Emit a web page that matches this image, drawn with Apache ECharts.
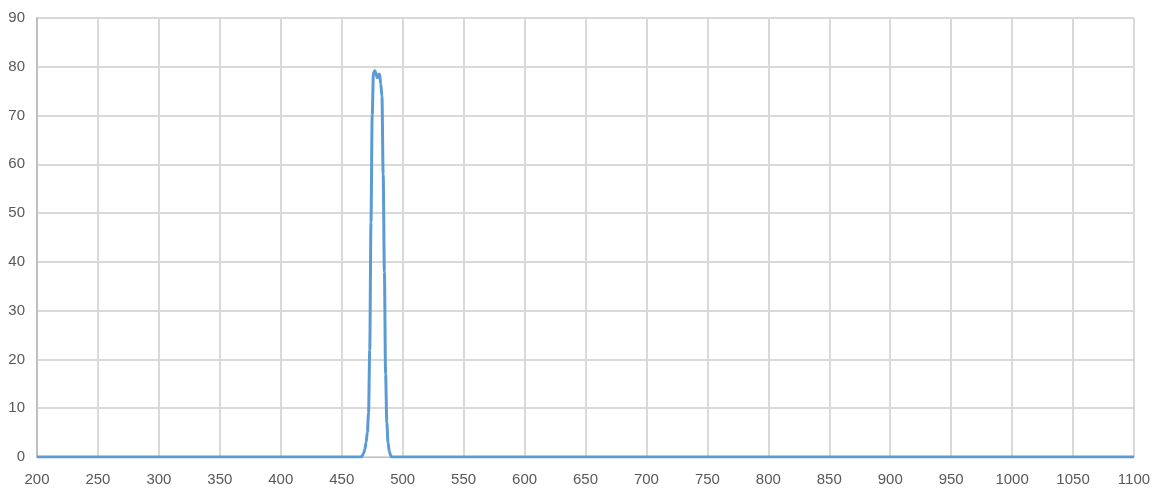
<!DOCTYPE html>
<html>
<head>
<meta charset="utf-8">
<script src="https://cdn.jsdelivr.net/npm/echarts@6/dist/echarts.min.js"></script>
<style>
  html, body { margin: 0; padding: 0; background: #fff; }
  #chart { width: 1158px; height: 493px; }
</style>
</head>
<body>
<div id="chart"></div>
<script>
// wavelength (nm) and transmission (%)
const wavelengths = [200, 460, 466, 467, 468, 469, 470, 471, 472, 473, 474, 475, 476, 477, 478, 479, 480, 481, 482, 483, 484, 485, 486, 487, 488, 489, 490, 491, 500, 1100]
const transmission = [0, 0, 0, 0.3, 0.8, 1.6, 3, 5, 9, 22, 48, 70, 78.6, 79.2, 78.8, 77.8, 78.2, 78.5, 76.5, 74, 58, 38, 17, 7, 3, 1.2, 0.4, 0, 0, 0]

const xTicks = { min: 200, max: 1100, interval: 50 }
const yTicks = { min: 0, max: 90, interval: 10 }

const points = wavelengths.map((w, i) => [w, transmission[i]])

const myChart = echarts.init(document.getElementById('chart'))

const option = {
    animation: false,
    grid: {
        left: 37,
        right: 24,
        top: 18,
        bottom: 36
    },
    xAxis: {
        type: 'value',
        min: xTicks.min,
        max: xTicks.max,
        interval: xTicks.interval,
        axisLine: { show: true, lineStyle: { color: '#BFBFBF', width: 1 } },
        axisTick: { show: false },
        splitLine: { show: true, lineStyle: { color: '#D9D9D9', width: 2 } },
        axisLabel: {
            color: '#595959',
            fontSize: 15,
            fontFamily: 'Liberation Sans',
            margin: 15,
            formatter: v => String(v)
        }
    },
    yAxis: {
        type: 'value',
        min: yTicks.min,
        max: yTicks.max,
        interval: yTicks.interval,
        axisLine: { show: true, lineStyle: { color: '#BFBFBF', width: 2 } },
        axisTick: { show: false },
        splitLine: { show: true, lineStyle: { color: '#D9D9D9', width: 2 } },
        axisLabel: {
            color: '#595959',
            fontSize: 15,
            fontFamily: 'Liberation Sans',
            margin: 12
        }
    },
    series: [
        {
            type: 'line',
            data: points,
            symbol: 'none',
            smooth: 0.3,
            smoothMonotone: 'x',
            lineStyle: { color: '#5B9BD5', width: 3 }
        }
    ]
}
myChart.setOption(option)
</script>
</body>
</html>
